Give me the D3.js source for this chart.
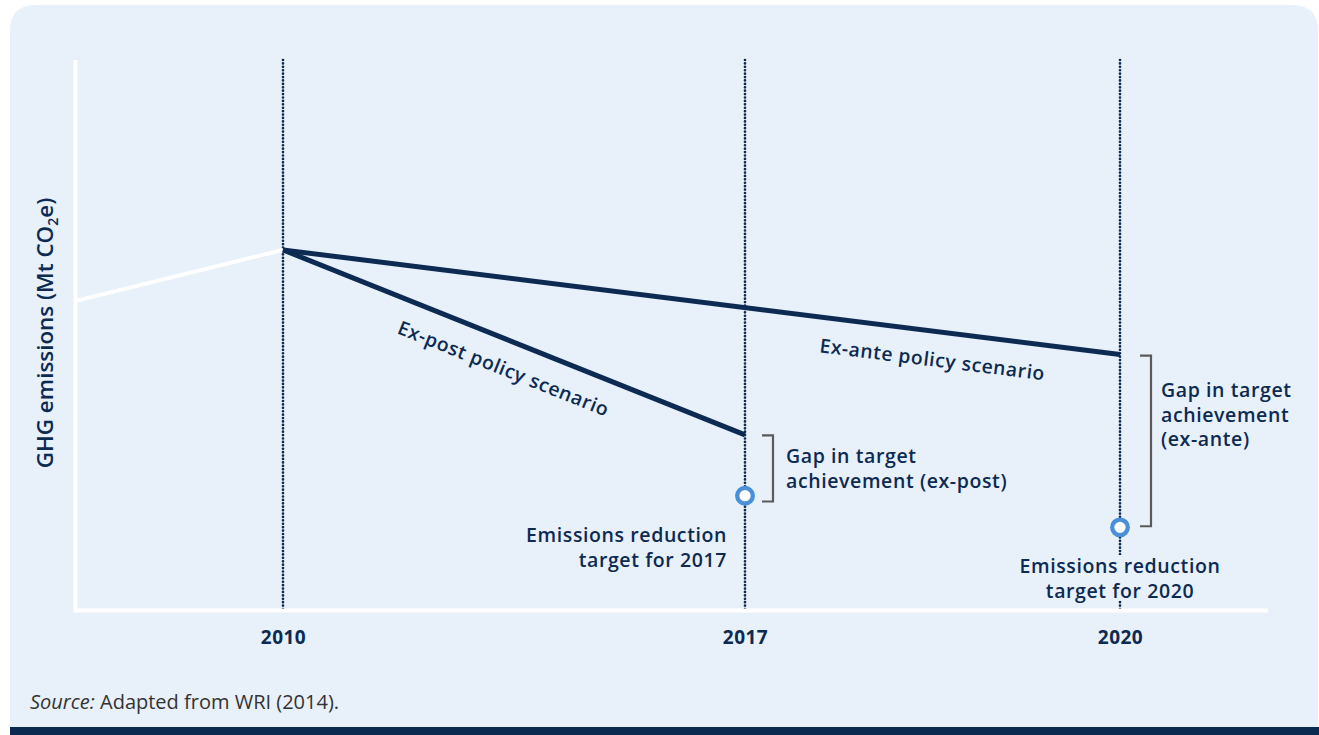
<!DOCTYPE html>
<html>
<head>
<meta charset="utf-8">
<script src="https://cdn.jsdelivr.net/npm/d3@7"></script>
<style>
  html, body { margin: 0; padding: 0; background: #ffffff; }
  svg { display: block; }
  text { font-family: "Open Sans", "Noto Sans", sans-serif; }
</style>
</head>
<body>
<svg id="chart" width="1319" height="735"></svg>
<script>
// ---------------- data ----------------
const tickYears = [2010, 2017, 2020];
const tickLabels = ["2010", "2017", "2020"];
const historical = [[2007, 56.3], [2010, 65.5]];
const exPost = [[2010, 65.5], [2017, 31.9]];
const exAnte = [[2010, 65.5], [2020, 46.5]];
const targets = [[2017, 20.85], [2020, 15.1]];
const gapExPost = [2017, 31.8, 19.8];
const gapExAnte = [2020, 46.3, 15.3];
const yLabel = "GHG emissions (Mt CO";
const scenarioLabels = ["Ex-post policy scenario", "Ex-ante policy scenario"];
const gapLabelPost = ["Gap in target", "achievement (ex-post)"];
const gapLabelAnte = ["Gap in target", "achievement", "(ex-ante)"];
const targetLabel2017 = ["Emissions reduction", "target for 2017"];
const targetLabel2020 = ["Emissions reduction", "target for 2020"];
const sourceItalic = "Source:";
const sourceText = " Adapted from WRI (2014).";

// ---------------- styles ----------------
const NAVY = "#0c2a52";
const PANEL = "#e8f0fa";
const svg = d3.select("#chart");

// panel with rounded top corners
const px0 = 10, py0 = 5, px1 = 1318, py1 = 727, r = 26;
svg.append("path")
  .attr("d", `M${px0},${py1} L${px0},${py0 + r} Q${px0},${py0} ${px0 + r},${py0} L${px1 - r},${py0} Q${px1},${py0} ${px1},${py0 + r} L${px1},${py1} Z`)
  .attr("fill", PANEL);
svg.append("rect").attr("x", 10).attr("y", 727).attr("width", 1309).attr("height", 8).attr("fill", "#0b2a4f");

// ---------------- scales ----------------
const x = d3.scaleLinear().domain([2007, 2010, 2017, 2020, 2022.24]).range([77, 283, 745, 1120, 1268]);
const y = d3.scaleLinear().domain([0, 100]).range([610.5, 60]);

const g = svg.append("g");

// vertical dotted guides
g.selectAll("line.guide").data(tickYears).join("line")
  .attr("class", "guide")
  .attr("x1", d => x(d)).attr("x2", d => x(d))
  .attr("y1", y(100)).attr("y2", y(0))
  .attr("stroke", NAVY).attr("stroke-width", 2.7)
  .attr("stroke-linecap", "round")
  .attr("stroke-dasharray", "0.01 3.4");

// axes (white lines)
g.append("line").attr("x1", 75.5).attr("x2", 75.5).attr("y1", y(100)).attr("y2", y(0) + 2)
  .attr("stroke", "#fff").attr("stroke-width", 4);
g.append("line").attr("x1", 74).attr("x2", x(2022.24)).attr("y1", y(0)).attr("y2", y(0))
  .attr("stroke", "#fff").attr("stroke-width", 4);

// x tick labels via axis
const xAxis = d3.axisBottom(x).tickValues(tickYears).tickFormat((d, i) => tickLabels[i]).tickSize(0).tickPadding(0);
const ax = g.append("g").attr("transform", `translate(0, 644)`).call(xAxis);
ax.select(".domain").remove();
ax.selectAll("text").attr("dy", 0).attr("y", 0)
  .attr("font-size", 19).attr("font-weight", 700).attr("fill", NAVY)
  .attr("font-family", "'Open Sans', sans-serif").attr("letter-spacing", 0.5);

// lines
const line = d3.line().x(d => x(d[0])).y(d => y(d[1]));
g.append("path").datum(historical).attr("d", line).attr("fill", "none").attr("stroke", "#fff").attr("stroke-width", 4);
g.append("path").datum(exAnte).attr("d", line).attr("fill", "none").attr("stroke", NAVY).attr("stroke-width", 5).attr("stroke-linejoin", "round");
g.append("path").datum(exPost).attr("d", line).attr("fill", "none").attr("stroke", NAVY).attr("stroke-width", 5).attr("stroke-linejoin", "round");

// scenario labels along lines
function alongLabel(seg, frac, text, offset) {
  const x0 = x(seg[0][0]), y0 = y(seg[0][1]), x1 = x(seg[1][0]), y1 = y(seg[1][1]);
  const ang = Math.atan2(y1 - y0, x1 - x0) * 180 / Math.PI;
  const cx = x0 + (x1 - x0) * frac, cy = y0 + (y1 - y0) * frac;
  g.append("text")
    .attr("transform", `translate(${cx},${cy}) rotate(${ang})`)
    .attr("x", 0).attr("y", offset)
    .attr("text-anchor", "middle")
    .attr("font-size", 19.3).attr("font-weight", 600).attr("letter-spacing", 0.6)
    .attr("fill", NAVY).text(text);
}
alongLabel(exPost, 0.5, scenarioLabels[0], 35);
alongLabel(exAnte, 0.78, scenarioLabels[1], 35);

// brackets
function bracket(gap, xOff) {
  const bx = x(gap[0]) + xOff;
  const yt = y(gap[1]), yb = y(gap[2]);
  g.append("path")
    .attr("d", `M${bx},${yt} L${bx + 11},${yt} L${bx + 11},${yb} L${bx},${yb}`)
    .attr("fill", "none").attr("stroke", "#5a5a5a").attr("stroke-width", 2.2);
}
bracket(gapExPost, 17);
bracket(gapExAnte, 20);

// multi-line labels
function multi(lines, lx, ly, lh, anchor, size, bg) {
  const t = g.append("text").attr("text-anchor", anchor)
    .attr("font-size", size).attr("font-weight", 600).attr("letter-spacing", 0.6).attr("fill", NAVY);
  lines.forEach((s, i) => t.append("tspan").attr("x", lx).attr("y", ly + i * lh).text(s));
  if (bg) {
    const b = t.node().getBBox();
    g.insert("rect", () => t.node()).attr("x", b.x).attr("y", b.y + 3).attr("width", b.width).attr("height", b.height - 6).attr("fill", PANEL);
  }
  return t;
}
multi(gapLabelPost, 786, 463, 24.5, "start", 19.5);
multi(gapLabelAnte, 1161, 397, 24.5, "start", 19.5);
multi(targetLabel2017, 727, 542, 24.5, "end", 19.5, true);
multi(targetLabel2020, x(2020), 573, 24.5, "middle", 19.5, true);

// target markers
g.selectAll("circle.target").data(targets).join("circle")
  .attr("class", "target")
  .attr("cx", d => x(d[0])).attr("cy", d => y(d[1]))
  .attr("r", 7.8).attr("fill", "#ffffff").attr("stroke", "#4a90d9").attr("stroke-width", 4.3);

// y axis label
const yl = svg.append("text")
  .attr("transform", `translate(53, 333) rotate(-90)`)
  .attr("text-anchor", "middle")
  .attr("font-size", 22.4).attr("font-weight", 600).attr("fill", NAVY);
yl.append("tspan").text(yLabel);
yl.append("tspan").attr("font-size", 14).attr("dy", 5).text("2");
yl.append("tspan").attr("dy", -5).text("e)");

// source
const src = svg.append("text").attr("x", 30).attr("y", 709).attr("font-size", 20).attr("fill", "#333");
src.append("tspan").attr("font-style", "italic").text(sourceItalic);
src.append("tspan").text(sourceText);
</script>
</body>
</html>
